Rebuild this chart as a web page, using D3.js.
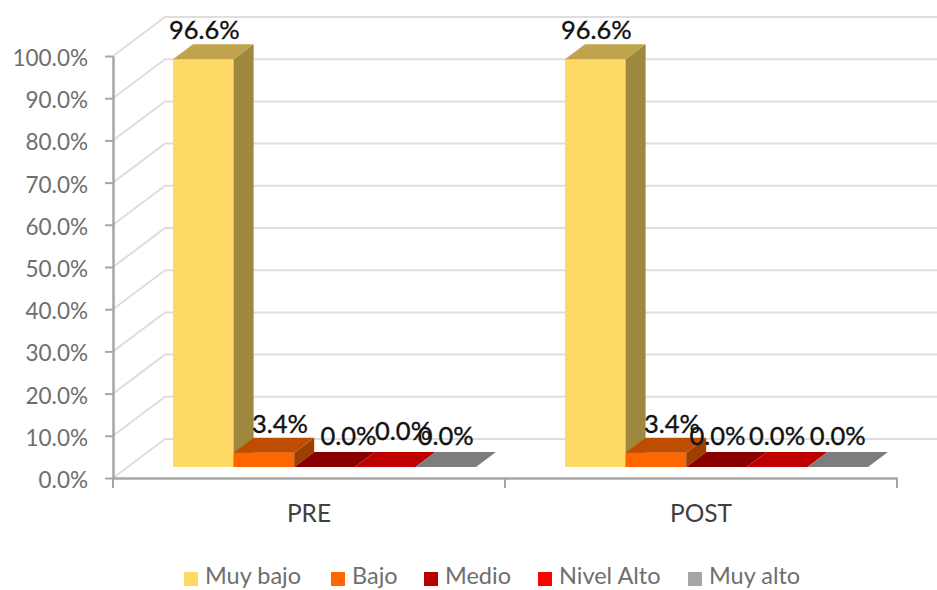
<!DOCTYPE html>
<html>
<head>
<meta charset="utf-8">
<script src="https://cdn.jsdelivr.net/npm/d3@7"></script>
<style>
  html, body { margin: 0; background: #fff; }
  text { font-family: Lato, "Open Sans", sans-serif; }
</style>
</head>
<body>
<script>
const groups = ['PRE', 'POST']
const seriesNames = ['Muy bajo', 'Bajo', 'Medio', 'Nivel Alto', 'Muy alto']
const preValues = [0.966, 0.034, 0, 0, 0]
const postValues = [0.966, 0.034, 0, 0, 0]
const yTicks = [0, 0.1, 0.2, 0.3, 0.4, 0.5, 0.6, 0.7, 0.8, 0.9, 1]
const colors = ['#ffd966', '#ff6600', '#b80000', '#ff0000', '#a6a6a6']

const width = 937
const height = 590
const svg = d3.select('body').append('svg').attr('width', width).attr('height', height)
  .style('display', 'block')

const y = d3.scaleLinear().domain([0, 1]).range([478, 56])
const x = d3.scaleBand().domain(groups).range([113, 897])
const xSeries = d3.scaleBand().domain(seriesNames).range([60, 363])

// wall depth and bar depth of the fake 3d
const wallDx = 52, wallDy = -39
const barDx = 20, barDy = -15
const floorDrop = 11

// gridlines on the back wall and the diagonal on the side wall
svg.append('g').selectAll('path').data(yTicks).enter().append('path')
  .attr('d', d => `M${x.range()[0]},${y(d)}L${x.range()[0] + wallDx},${y(d) + wallDy}L${width + 20},${y(d) + wallDy}`)
  .attr('fill', 'none')
  .attr('stroke', '#dedede')
  .attr('stroke-width', 2)

// bars, left to right so each one covers the side of the previous
const barData = groups.flatMap((g, gi) => {
  const vals = gi === 0 ? preValues : postValues
  return seriesNames.map((s, si) => ({ g, s, si, v: vals[si] }))
})
const barX = d => x(d.g) + xSeries(d.s)
const barBase = y(0) - floorDrop
const barTop = d => y(d.v) - floorDrop
const w = xSeries.bandwidth()

const bars = svg.append('g').selectAll('g').data(barData).enter().append('g')
bars.append('path') // front
  .attr('d', d => `M${barX(d)},${barBase}V${barTop(d)}H${barX(d) + w}V${barBase}Z`)
  .attr('fill', d => colors[d.si])
bars.append('path') // side
  .attr('d', d => `M${barX(d) + w},${barBase}V${barTop(d)}l${barDx},${barDy}V${barBase + barDy}Z`)
  .attr('fill', d => d3.interpolateRgb(colors[d.si], '#000')(0.38))
bars.append('path') // top
  .attr('d', d => `M${barX(d)},${barTop(d)}l${barDx},${barDy}h${w}l${-barDx},${-barDy}Z`)
  .attr('fill', d => d3.interpolateRgb(colors[d.si], '#000')(0.25))

// axes
const yAxis = svg.append('g').attr('transform', `translate(${x.range()[0]},0)`)
  .call(d3.axisLeft(y).tickValues(yTicks).tickFormat(d3.format('.1%')).tickSize(8).tickSizeOuter(0).tickPadding(17))
const xAxis = svg.append('g').attr('transform', `translate(0,${y(0)})`)
  .call(d3.axisBottom(x).tickSize(0).tickPadding(27))
xAxis.append('g').selectAll('line').data([x.range()[0], x(groups[1]), x.range()[1]]).enter().append('line')
  .attr('x1', d => d).attr('x2', d => d).attr('y1', 0).attr('y2', 10)
  .attr('stroke', '#a6a6a6').attr('stroke-width', 2)
svg.selectAll('.domain').attr('stroke', '#a6a6a6').attr('stroke-width', 2.5)
yAxis.selectAll('line').attr('stroke', '#a6a6a6').attr('stroke-width', 2)
yAxis.selectAll('text').attr('font-size', 22.5).attr('fill', '#6e6e6e').attr('font-family', 'Lato').attr('dy', '0.42em')
xAxis.selectAll('text').attr('font-size', 24.5).attr('fill', '#404040').attr('font-family', 'Lato')

// data labels, moved by hand in the original so they overlap like this
const labelNudge = [[1, -20], [16, -20], [24, -22], [18, -27], [0, -22], [1, -20], [16, -20], [1, -22], [0, -22], [0, -22]]
svg.append('g').selectAll('text').data(barData).enter().append('text')
  .attr('x', (d, i) => barX(d) + w / 2 + labelNudge[i][0])
  .attr('y', (d, i) => barTop(d) + labelNudge[i][1])
  .attr('text-anchor', 'middle')
  .attr('font-size', 25.5)
  .attr('fill', '#111')
  .attr('stroke', '#111')
  .attr('stroke-width', 0.35)
  .text(d => d3.format('.1%')(d.v))

// legend
const legendX = [184, 331, 424, 538, 688]
const legend = svg.append('g').selectAll('g').data(seriesNames).enter().append('g')
  .attr('transform', (d, i) => `translate(${legendX[i]},572)`)
legend.append('rect').attr('width', 14).attr('height', 14).attr('fill', (d, i) => colors[i])
legend.append('text')
  .attr('x', 21).attr('y', 12)
  .attr('font-size', 23.5)
  .attr('fill', '#6e6e6e')
  .text(d => d)
</script>
</body>
</html>
